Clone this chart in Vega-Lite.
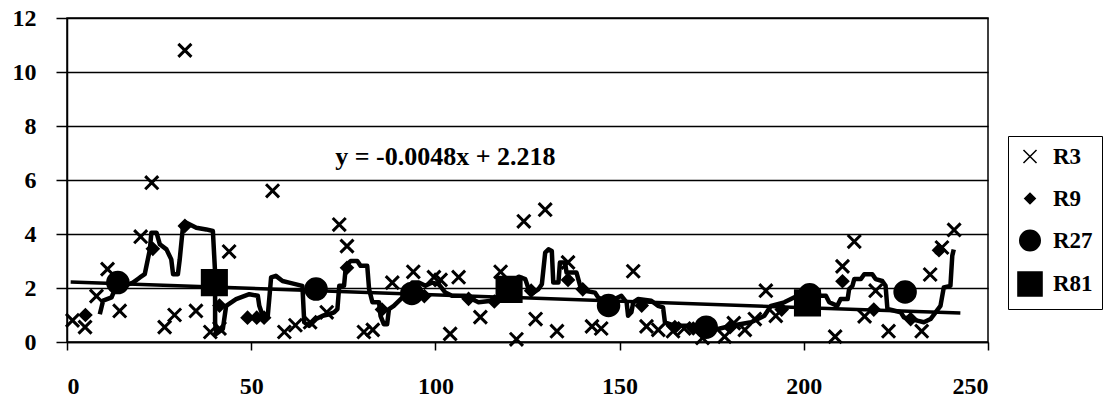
{
  "$schema": "https://vega.github.io/schema/vega-lite/v6.json",
  "width": 921,
  "height": 324,
  "autosize": {"type": "none"},
  "padding": {"left": 67, "top": 18, "right": 118, "bottom": 57},
  "background": "white",
  "config": {
    "view": {"stroke": "black", "strokeWidth": 1.5},
    "font": "Liberation Serif",
    "axis": {
      "labelFont": "Liberation Serif",
      "labelFontWeight": "bold",
      "labelFontSize": 24,
      "labelColor": "black",
      "domainColor": "black",
      "domainWidth": 1.5,
      "tickColor": "black",
      "tickWidth": 1.5,
      "gridColor": "black",
      "gridWidth": 1.5,
      "gridOpacity": 1,
      "title": null
    },
    "axisX": {"tickSize": 8, "labelPadding": 24},
    "axisY": {"tickSize": 11, "labelPadding": 20},
    "legend": {
      "labelFont": "Liberation Serif",
      "labelFontWeight": "bold",
      "labelFontSize": 23,
      "labelColor": "black",
      "rowPadding": 10,
      "padding": 9,
      "gridAlign": "all",
      "labelOffset": 10
    }
  },
  "datasets": {
    "pts": [
      {"series": "R3", "x": 1.5, "y": 0.8}, {"series": "R3", "x": 4.9, "y": 0.55}, {"series": "R3", "x": 8, "y": 1.7},
      {"series": "R3", "x": 11, "y": 2.7}, {"series": "R3", "x": 14.3, "y": 1.15}, {"series": "R3", "x": 20, "y": 3.9},
      {"series": "R3", "x": 23, "y": 5.9}, {"series": "R3", "x": 26.5, "y": 0.55}, {"series": "R3", "x": 29.2, "y": 1.0},
      {"series": "R3", "x": 32, "y": 10.8}, {"series": "R3", "x": 35, "y": 1.15}, {"series": "R3", "x": 38.9, "y": 0.37},
      {"series": "R3", "x": 41.4, "y": 0.5}, {"series": "R3", "x": 44, "y": 3.35}, {"series": "R3", "x": 55.8, "y": 5.6},
      {"series": "R3", "x": 59, "y": 0.37}, {"series": "R3", "x": 62, "y": 0.62}, {"series": "R3", "x": 66, "y": 0.73},
      {"series": "R3", "x": 70.5, "y": 1.1}, {"series": "R3", "x": 73.9, "y": 4.35}, {"series": "R3", "x": 76, "y": 3.55},
      {"series": "R3", "x": 80.6, "y": 0.37}, {"series": "R3", "x": 83, "y": 0.45}, {"series": "R3", "x": 88.3, "y": 2.2},
      {"series": "R3", "x": 94, "y": 2.6}, {"series": "R3", "x": 99.6, "y": 2.4}, {"series": "R3", "x": 101.4, "y": 2.3},
      {"series": "R3", "x": 104, "y": 0.3}, {"series": "R3", "x": 106.3, "y": 2.4}, {"series": "R3", "x": 112.2, "y": 0.92},
      {"series": "R3", "x": 117.7, "y": 2.6}, {"series": "R3", "x": 122, "y": 0.1}, {"series": "R3", "x": 124, "y": 4.47},
      {"series": "R3", "x": 127.2, "y": 0.85}, {"series": "R3", "x": 129.8, "y": 4.9}, {"series": "R3", "x": 133, "y": 0.4},
      {"series": "R3", "x": 136, "y": 2.95}, {"series": "R3", "x": 142.5, "y": 0.58}, {"series": "R3", "x": 145, "y": 0.5},
      {"series": "R3", "x": 153.7, "y": 2.62}, {"series": "R3", "x": 157.3, "y": 0.58}, {"series": "R3", "x": 160.5, "y": 0.45},
      {"series": "R3", "x": 164.5, "y": 0.4}, {"series": "R3", "x": 167.5, "y": 0.5}, {"series": "R3", "x": 172.5, "y": 0.15},
      {"series": "R3", "x": 178.5, "y": 0.2}, {"series": "R3", "x": 181, "y": 0.7}, {"series": "R3", "x": 184, "y": 0.45},
      {"series": "R3", "x": 186.7, "y": 0.85}, {"series": "R3", "x": 189.7, "y": 1.9}, {"series": "R3", "x": 192.4, "y": 0.97},
      {"series": "R3", "x": 208.5, "y": 0.2}, {"series": "R3", "x": 210.5, "y": 2.8}, {"series": "R3", "x": 213.7, "y": 3.72},
      {"series": "R3", "x": 216.5, "y": 0.95}, {"series": "R3", "x": 219.5, "y": 1.9}, {"series": "R3", "x": 223, "y": 0.4},
      {"series": "R3", "x": 232, "y": 0.4}, {"series": "R3", "x": 234.3, "y": 2.5}, {"series": "R3", "x": 237.5, "y": 3.5},
      {"series": "R3", "x": 240.8, "y": 4.15},
      {"series": "R9", "x": 5, "y": 1.0}, {"series": "R9", "x": 15, "y": 2.3}, {"series": "R9", "x": 23.3, "y": 3.45},
      {"series": "R9", "x": 32, "y": 4.3}, {"series": "R9", "x": 41.4, "y": 1.35}, {"series": "R9", "x": 49, "y": 0.9},
      {"series": "R9", "x": 51.5, "y": 0.9}, {"series": "R9", "x": 53.5, "y": 0.9}, {"series": "R9", "x": 76, "y": 2.75},
      {"series": "R9", "x": 85.5, "y": 1.2}, {"series": "R9", "x": 97, "y": 1.7}, {"series": "R9", "x": 109, "y": 1.6},
      {"series": "R9", "x": 116, "y": 1.5}, {"series": "R9", "x": 126, "y": 1.9}, {"series": "R9", "x": 136, "y": 2.3},
      {"series": "R9", "x": 140, "y": 1.95}, {"series": "R9", "x": 156, "y": 1.35}, {"series": "R9", "x": 165, "y": 0.55},
      {"series": "R9", "x": 170, "y": 0.5}, {"series": "R9", "x": 180, "y": 0.55}, {"series": "R9", "x": 194, "y": 1.2},
      {"series": "R9", "x": 210.5, "y": 2.25}, {"series": "R9", "x": 219, "y": 1.2}, {"series": "R9", "x": 229, "y": 0.85},
      {"series": "R9", "x": 236.7, "y": 3.4},
      {"series": "R27", "x": 13.8, "y": 2.2}, {"series": "R27", "x": 67.6, "y": 1.96}, {"series": "R27", "x": 93.6, "y": 1.8},
      {"series": "R27", "x": 147, "y": 1.35}, {"series": "R27", "x": 173.5, "y": 0.55}, {"series": "R27", "x": 201.6, "y": 1.75},
      {"series": "R27", "x": 227.5, "y": 1.85},
      {"series": "R81", "x": 40, "y": 2.2}, {"series": "R81", "x": 120, "y": 1.95}, {"series": "R81", "x": 201, "y": 1.45}
    ],
    "ma": [
      {"i": 1, "x": 8.9, "y": 1.03}, {"i": 2, "x": 9.8, "y": 1.53}, {"i": 3, "x": 12.1, "y": 1.65}, {"i": 4, "x": 13, "y": 1.96},
      {"i": 5, "x": 17.9, "y": 2.2}, {"i": 6, "x": 19.8, "y": 2.39}, {"i": 7, "x": 21.1, "y": 2.51}, {"i": 8, "x": 22.5, "y": 3.43},
      {"i": 9, "x": 22.9, "y": 4.05}, {"i": 10, "x": 24.3, "y": 4.05}, {"i": 11, "x": 25.2, "y": 3.62}, {"i": 12, "x": 27, "y": 3.43},
      {"i": 13, "x": 28.3, "y": 3.06}, {"i": 14, "x": 28.8, "y": 2.51}, {"i": 15, "x": 30.1, "y": 2.51}, {"i": 16, "x": 30.6, "y": 3.06},
      {"i": 17, "x": 31.5, "y": 4.3}, {"i": 18, "x": 32.4, "y": 4.42}, {"i": 19, "x": 35.1, "y": 4.23}, {"i": 20, "x": 37.8, "y": 4.17},
      {"i": 21, "x": 39.6, "y": 4.11}, {"i": 22, "x": 40.2, "y": 2.57}, {"i": 23, "x": 40.2, "y": 0.73}, {"i": 24, "x": 40.5, "y": 0.3},
      {"i": 25, "x": 42.3, "y": 0.48}, {"i": 26, "x": 43.2, "y": 1.34}, {"i": 27, "x": 45.9, "y": 1.59}, {"i": 28, "x": 49.5, "y": 1.77},
      {"i": 29, "x": 51.8, "y": 1.71}, {"i": 30, "x": 52.2, "y": 1.34}, {"i": 31, "x": 53.1, "y": 0.97}, {"i": 32, "x": 54.5, "y": 0.97},
      {"i": 33, "x": 54.9, "y": 1.59}, {"i": 34, "x": 55.4, "y": 2.39}, {"i": 35, "x": 56.7, "y": 2.45}, {"i": 36, "x": 58.5, "y": 2.26},
      {"i": 37, "x": 60.3, "y": 2.2}, {"i": 38, "x": 63.9, "y": 2.08}, {"i": 39, "x": 64.4, "y": 0.73}, {"i": 40, "x": 65.7, "y": 0.6},
      {"i": 41, "x": 67.6, "y": 0.85}, {"i": 42, "x": 69.4, "y": 0.97}, {"i": 43, "x": 71.2, "y": 1.03}, {"i": 44, "x": 72.5, "y": 1.1},
      {"i": 45, "x": 73.4, "y": 1.22}, {"i": 46, "x": 73.9, "y": 2.08}, {"i": 47, "x": 75.2, "y": 2.08}, {"i": 48, "x": 75.7, "y": 2.82},
      {"i": 49, "x": 77, "y": 3.0}, {"i": 50, "x": 78.8, "y": 3.0}, {"i": 51, "x": 79.7, "y": 2.82}, {"i": 52, "x": 81.5, "y": 2.82},
      {"i": 53, "x": 82, "y": 1.96}, {"i": 54, "x": 82.9, "y": 1.47}, {"i": 55, "x": 84.7, "y": 1.47}, {"i": 56, "x": 85.1, "y": 0.97},
      {"i": 57, "x": 86, "y": 0.66}, {"i": 58, "x": 86.9, "y": 0.66}, {"i": 59, "x": 87.4, "y": 1.22}, {"i": 60, "x": 88.7, "y": 1.34},
      {"i": 61, "x": 91.5, "y": 1.71}, {"i": 62, "x": 93.7, "y": 2.2}, {"i": 63, "x": 95.5, "y": 2.2}, {"i": 64, "x": 97.3, "y": 2.08},
      {"i": 65, "x": 99.1, "y": 2.2}, {"i": 66, "x": 100.9, "y": 2.14}, {"i": 67, "x": 102.7, "y": 1.83}, {"i": 68, "x": 104.5, "y": 1.71},
      {"i": 69, "x": 108.1, "y": 1.71}, {"i": 70, "x": 109.9, "y": 1.59}, {"i": 71, "x": 111.7, "y": 1.47}, {"i": 72, "x": 115.3, "y": 1.53},
      {"i": 73, "x": 117.2, "y": 1.71}, {"i": 74, "x": 119.9, "y": 1.71}, {"i": 75, "x": 120.8, "y": 2.2}, {"i": 76, "x": 122.6, "y": 2.42},
      {"i": 77, "x": 124.4, "y": 2.33}, {"i": 78, "x": 125.3, "y": 1.96}, {"i": 79, "x": 126.6, "y": 1.83}, {"i": 80, "x": 128, "y": 1.96},
      {"i": 81, "x": 128.9, "y": 2.14}, {"i": 82, "x": 129.8, "y": 3.31}, {"i": 83, "x": 130.7, "y": 3.43}, {"i": 84, "x": 131.6, "y": 3.37},
      {"i": 85, "x": 132, "y": 2.2}, {"i": 86, "x": 133.4, "y": 2.2}, {"i": 87, "x": 133.8, "y": 2.94}, {"i": 88, "x": 135.2, "y": 2.94},
      {"i": 89, "x": 135.6, "y": 2.57}, {"i": 90, "x": 138.3, "y": 2.57}, {"i": 91, "x": 139.3, "y": 2.08}, {"i": 92, "x": 140.6, "y": 1.9},
      {"i": 93, "x": 143.3, "y": 1.83}, {"i": 94, "x": 144.2, "y": 1.65}, {"i": 95, "x": 146, "y": 1.53}, {"i": 96, "x": 148.7, "y": 1.59},
      {"i": 97, "x": 150.5, "y": 1.71}, {"i": 98, "x": 151.9, "y": 1.47}, {"i": 99, "x": 152.3, "y": 0.97}, {"i": 100, "x": 153.2, "y": 1.1},
      {"i": 101, "x": 153.7, "y": 1.47}, {"i": 102, "x": 155, "y": 1.59}, {"i": 103, "x": 158.6, "y": 1.53}, {"i": 104, "x": 160.4, "y": 1.34},
      {"i": 105, "x": 161.8, "y": 1.28}, {"i": 106, "x": 162.3, "y": 0.73}, {"i": 107, "x": 165, "y": 0.6}, {"i": 108, "x": 169.5, "y": 0.6},
      {"i": 109, "x": 176.7, "y": 0.48}, {"i": 110, "x": 180.3, "y": 0.6}, {"i": 111, "x": 185.7, "y": 0.73}, {"i": 112, "x": 189.3, "y": 0.97},
      {"i": 113, "x": 191.1, "y": 1.34}, {"i": 114, "x": 194.7, "y": 1.47}, {"i": 115, "x": 198.3, "y": 1.71}, {"i": 116, "x": 203.7, "y": 1.71},
      {"i": 117, "x": 206, "y": 1.71}, {"i": 118, "x": 206.9, "y": 1.47}, {"i": 119, "x": 209.1, "y": 1.34}, {"i": 120, "x": 210, "y": 1.59},
      {"i": 121, "x": 211.9, "y": 1.59}, {"i": 122, "x": 212.3, "y": 1.96}, {"i": 123, "x": 213.2, "y": 2.08}, {"i": 124, "x": 213.7, "y": 2.33},
      {"i": 125, "x": 215.5, "y": 2.33}, {"i": 126, "x": 216.4, "y": 2.51}, {"i": 127, "x": 218.6, "y": 2.51}, {"i": 128, "x": 219.5, "y": 2.33},
      {"i": 129, "x": 221.3, "y": 2.26}, {"i": 130, "x": 222.2, "y": 2.08}, {"i": 131, "x": 222.7, "y": 1.22}, {"i": 132, "x": 226.3, "y": 1.1},
      {"i": 133, "x": 227.2, "y": 0.91}, {"i": 134, "x": 229, "y": 0.85}, {"i": 135, "x": 230.8, "y": 0.79}, {"i": 136, "x": 232.6, "y": 0.73},
      {"i": 137, "x": 234.4, "y": 0.85}, {"i": 138, "x": 237.1, "y": 1.34}, {"i": 139, "x": 238, "y": 2.02}, {"i": 140, "x": 239.8, "y": 2.08},
      {"i": 141, "x": 240.3, "y": 3.19}, {"i": 142, "x": 240.7, "y": 3.43}
    ],
    "trend": [
      {"x": 1, "y": 2.22},
      {"x": 242.5, "y": 1.07}
    ],
    "label": [
      {"x": 72.8, "y": 6.85, "text": "y = -0.0048x + 2.218"}
    ]
  },
  "layer": [
    {
      "data": {"name": "pts"},
      "mark": {"type": "point", "filled": true, "color": "black", "stroke": "black", "strokeWidth": 3, "opacity": 1},
      "encoding": {
        "x": {
          "field": "x", "type": "quantitative",
          "scale": {"domain": [0, 250], "nice": false, "zero": true},
          "axis": {"values": [0, 50, 100, 150, 200, 250], "grid": false}
        },
        "y": {
          "field": "y", "type": "quantitative",
          "scale": {"domain": [0, 12], "nice": false},
          "axis": {"values": [0, 2, 4, 6, 8, 10, 12], "grid": true}
        },
        "shape": {
          "field": "series", "type": "nominal",
          "scale": {"domain": ["R3", "R9", "R27", "R81"], "range": ["M-1,-1L1,1M1,-1L-1,1", "diamond", "circle", "square"]},
          "legend": {
            "title": null,
            "orient": "none",
            "legendX": 941,
            "legendY": 118,
            "strokeColor": "black",
            "fillColor": "white",
            "symbolOpacity": 1,
            "encode": {
              "symbols": {
                "update": {
                  "fill": {"value": "black"},
                  "stroke": {"value": "black"},
                  "strokeWidth": {"value": 2.5},
                  "opacity": {"value": 1}
                }
              }
            }
          }
        },
        "size": {
          "field": "series", "type": "nominal",
          "scale": {"type": "ordinal", "domain": ["R3", "R9", "R27", "R81"], "range": [170, 110, 420, 580]},
          "legend": {
            "title": null,
            "orient": "none",
            "legendX": 941,
            "legendY": 118,
            "strokeColor": "black",
            "fillColor": "white",
            "symbolOpacity": 1,
            "encode": {
              "symbols": {
                "update": {
                  "fill": {"value": "black"},
                  "stroke": {"value": "black"},
                  "strokeWidth": {"value": 2.5},
                  "opacity": {"value": 1}
                }
              }
            }
          }
        }
      }
    },
    {
      "data": {"name": "ma"},
      "mark": {"type": "line", "color": "black", "strokeWidth": 4.5, "strokeJoin": "round"},
      "encoding": {
        "x": {"field": "x", "type": "quantitative"},
        "y": {"field": "y", "type": "quantitative"},
        "order": {"field": "i", "type": "quantitative"}
      }
    },
    {
      "data": {"name": "trend"},
      "mark": {"type": "line", "color": "black", "strokeWidth": 3.5},
      "encoding": {
        "x": {"field": "x", "type": "quantitative"},
        "y": {"field": "y", "type": "quantitative"}
      }
    },
    {
      "data": {"name": "label"},
      "mark": {"type": "text", "align": "left", "baseline": "middle", "font": "Liberation Serif", "fontWeight": "bold", "fontSize": 26, "color": "black"},
      "encoding": {
        "x": {"field": "x", "type": "quantitative"},
        "y": {"field": "y", "type": "quantitative"},
        "text": {"field": "text"}
      }
    }
  ]
}
